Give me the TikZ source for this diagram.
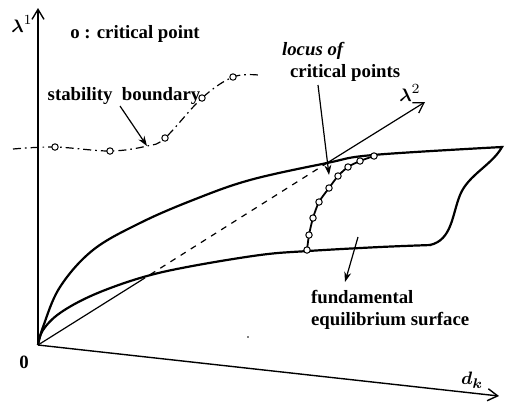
\documentclass[tikz,border=0pt]{standalone}
\usepackage{bm}
\usepackage{fontspec}
\setmainfont{Liberation Serif}
\usepackage{tikz}
\usetikzlibrary{arrows.meta}
\tikzset{every node/.append style={font=\bfseries\fontsize{9.4}{11}\selectfont},
  axis/.style={line width=0.7pt, -{Straight Barb[length=5pt,width=6pt]}},
  pointer/.style={line width=0.6pt, -{Stealth[length=5pt,width=3.5pt]}},
  surf/.style={line width=1.1pt},
  crit/.style={circle, draw, fill=white, line width=0.5pt, inner sep=0pt, minimum size=3.2pt}}

\begin{document}
\begin{tikzpicture}[x=0.5pt, y=-0.5pt]
    \useasboundingbox (0,0) rectangle (506,403);
    \coordinate (O) at (38,345);
    % axes
    \draw[axis] (O) -- (38,8) coordinate (l1);
    \draw[axis] (O) -- (499,396) coordinate (dk);
    \draw[line width=0.6pt] (O) -- (140,281) coordinate (a);
    \draw[line width=0.6pt, dashed] (a) -- (327,163) coordinate (b);
    \draw[axis, line width=0.6pt] (b) -- (425,102) coordinate (l2);
    \node (lab1) at (22,24) {$\bm{\lambda}^{1}$};
    \node (lab2) at (410,93) {$\bm{\lambda}^{2}$};
    \node (labdk) at (472,380) {$\bm{d_k}$};
    \node (zero) at (24,362) {0};
    % fundamental equilibrium surface
    \draw[surf] plot[smooth, tension=0.6] coordinates {(O) (43,327) (60,287) (93,250) (140,223) (193,200) (250,180) (327,163) (373,155) (502,147)}
      .. controls (492,165) and (468,175) .. (460,195)
      .. controls (452,215) and (452,240) .. (430,245);
    \draw[surf] plot[smooth, tension=0.6] coordinates {(O) (43,330) (60,313) (93,295) (140,278) (187,267) (260,255) (308,251) (380,247) (431,245)};
    % locus of critical points
    \draw[line width=0.9pt] plot[smooth] coordinates {(307,250) (309,235) (313,218) (319,202) (329,188) (338,176) (348,167) (360,161) (374,156)};
    \foreach \px/\py [count=\i] in {307/250, 309/235, 313/218, 319/202, 329/188, 338/176, 348/167, 360/161, 374/156}
        \node[crit] (c\i) at (\px,\py) {};
    % stability boundary
    \draw[line width=0.6pt, dash pattern=on 4pt off 2pt on 0.8pt off 2pt] plot[smooth, tension=0.6] coordinates {(13,149) (55,147) (110,151) (147,146) (165,138) (202,98) (233,77) (258,75)};
    \foreach \px/\py [count=\i] in {55/147, 110/151, 165/138, 202/98, 233/77}
        \node[crit] (s\i) at (\px,\py) {};
    \coordinate (sb) at (147,146);
    % labels
    \node (key) at (135,34) {o : critical point};
    \node (stab) at (124,96) {stability\ \ boundary};
    \node[align=left, anchor=west] (locus) at (275,62) {\textit{locus of}\\\hspace{4pt}critical points};
    \node[align=left, anchor=north west] (fund) at (304,283) {fundamental\\equilibrium surface};
    \coordinate (fd) at (358,237);
    \fill (248,337) circle (0.9);
    % pointers
    \draw[pointer] (120,106) -- (sb);
    \draw[pointer] (318,85) -- (329,175);
    \draw[pointer] (fd) -- (345,282);
\end{tikzpicture}
\end{document}
